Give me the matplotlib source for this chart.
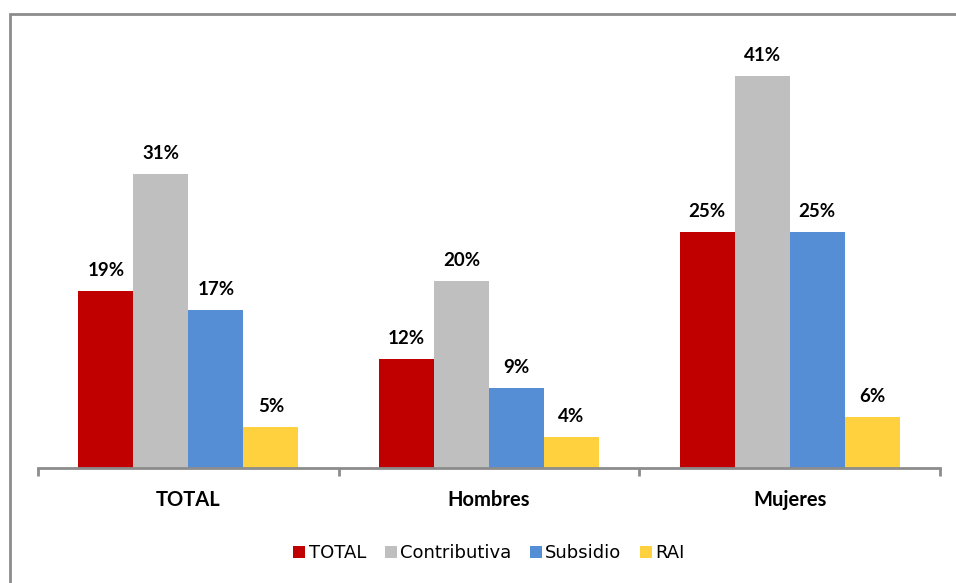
import matplotlib.pyplot as plt
from matplotlib.patches import Rectangle
import numpy as np

categories = ["TOTAL", "Hombres", "Mujeres"]
series_names = ["TOTAL", "Contributiva", "Subsidio", "RAI"]
total = [19, 12, 25]
contributiva = [31, 20, 41]
subsidio = [17, 9, 25]
rai = [5, 4, 6]
colors = ["#c00000", "#bfbfbf", "#558ed5", "#ffd13f"]

plt.rcParams["font.family"] = ["Lato", "DejaVu Sans"]

fig = plt.figure(figsize=(9.56, 5.83), dpi=100)
W, H = 956, 583
ax = fig.add_axes([38 / W, 115 / H, 902 / W, 428 / H])

# marco gris alrededor del grafico
fig.patches.append(Rectangle((9.5 / W, -0.05), 1.1, 1 - 13.5 / H + 0.05,
                             transform=fig.transFigure, fill=False,
                             edgecolor="#8c8c8c", linewidth=2))

x = np.arange(len(categories))
w = 0.183
for i, (vals, name) in enumerate(zip([total, contributiva, subsidio, rai], series_names)):
    bars = ax.bar(x + (i - 1.5) * w, vals, w, color=colors[i], label=name)
    for b in bars:
        ax.annotate(f"{b.get_height():.0f}%", (b.get_x() + b.get_width() / 2, b.get_height()),
                    xytext=(0, 8.5), textcoords="offset points", ha="center", va="bottom",
                    fontsize=13.5, fontweight="bold")

# el eje no arranca exactamente en 0 en el original
ymin = 0.8
scale = 9.75  # px por punto porcentual
ax.set_xlim(-0.5, 2.5)
ax.set_ylim(ymin, ymin + 428 / scale)
ax.set_yticks([])
for s in ["top", "right", "left"]:
    ax.spines[s].set_visible(False)
ax.spines["bottom"].set_color("#8c8c8c")
ax.spines["bottom"].set_linewidth(2)

ax.set_xticks([-0.5, 0.5, 1.5, 2.5])
ax.set_xticklabels([])
ax.tick_params(axis="x", length=6, width=2, color="#8c8c8c")
for xi, c in zip(x, categories):
    ax.text(xi, ymin - 31.5 / scale, c, ha="center", va="center", fontsize=14.5, fontweight="bold")

ax.legend(loc="center", bbox_to_anchor=(0.5, -0.199), ncol=4, frameon=False,
          prop={"family": "DejaVu Sans", "size": 13}, handlelength=0.67, handleheight=0.67,
          handletextpad=0.2, columnspacing=1.0)

fig.savefig("out.png", dpi=100)
